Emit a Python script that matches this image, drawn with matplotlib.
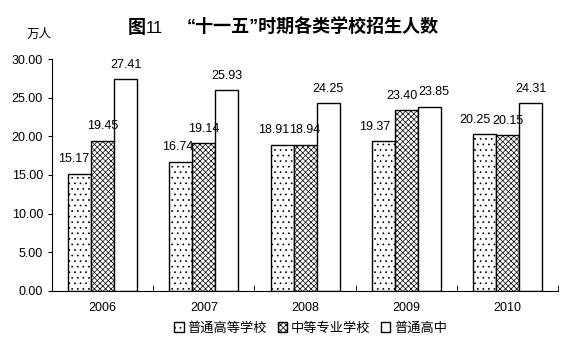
import matplotlib
matplotlib.use('Agg')
import matplotlib.pyplot as plt
import numpy as np

plt.rcParams['font.family'] = ['Liberation Sans', 'Noto Sans CJK SC']
plt.rcParams['hatch.linewidth'] = 0.5

years = ['2006', '2007', '2008', '2009', '2010']
gaoxiao = [15.17, 16.74, 18.91, 19.37, 20.25]
zhongzhuan = [19.45, 19.14, 18.94, 23.40, 20.15]
gaozhong = [27.41, 25.93, 24.25, 23.85, 24.31]
series_names = ['普通高等学校', '中等专业学校', '普通高中']

# sideways nudge of the value labels (points), like the original
label_shift = [
    [-4, -2, -6, -6, -7],
    [0, 0, 0, -3, 0],
    [0, 0, 0, 3, 0],
]

fig = plt.figure(figsize=(5.65, 3.6), dpi=100)
ax = fig.add_axes([0.092, 0.192, 0.896, 0.644])

x = np.arange(len(years))
w = 0.227
hatches = ['...', 'xxxxxx', '']
for i, (vals, h) in enumerate(zip([gaoxiao, zhongzhuan, gaozhong], hatches)):
    bars = ax.bar(x + (i - 1) * w, vals, w, color='white', edgecolor='black',
                  linewidth=1.0, hatch=h, label=series_names[i])
    for j, (b, v) in enumerate(zip(bars, vals)):
        ax.annotate(f'{v:.2f}', (b.get_x() + b.get_width() / 2, v),
                    xytext=(label_shift[i][j], 6), textcoords='offset points',
                    ha='center', va='bottom', fontsize=9)

ax.set_xlim(-0.5, 4.5)
ax.set_ylim(0, 30)
ax.set_yticks(np.arange(0, 30.1, 5))
ax.set_yticklabels([f'{t:.2f}' for t in np.arange(0, 30.1, 5)], fontsize=9)
ax.set_xticks(x)
ax.set_xticklabels(years, fontsize=9)
ax.tick_params(axis='x', length=0, pad=8)
ax.tick_params(axis='y', length=3, direction='out')
ax.set_xticks(np.arange(-0.5, 4.6, 1), minor=True)
ax.tick_params(axis='x', which='minor', length=4, direction='in')
for s in ['top', 'right']:
    ax.spines[s].set_visible(False)

fig.text(0.258, 0.922, '图', ha='right', va='center',
         fontsize=13, fontweight='bold')
fig.text(0.258, 0.922, '11', ha='left', va='center', fontsize=12)
fig.text(0.553, 0.922, '“十一五”时期各类学校招生人数', ha='center', va='center',
         fontsize=13, fontweight='bold')
fig.text(0.07, 0.902, '万人', ha='center', va='center', fontsize=9)

fig.legend(loc='center', bbox_to_anchor=(0.55, 0.088), ncol=3, frameon=False,
           fontsize=9.5, handlelength=0.7, handleheight=0.7, handletextpad=0.3,
           columnspacing=0.8)

fig.savefig('out.png', dpi=100)
